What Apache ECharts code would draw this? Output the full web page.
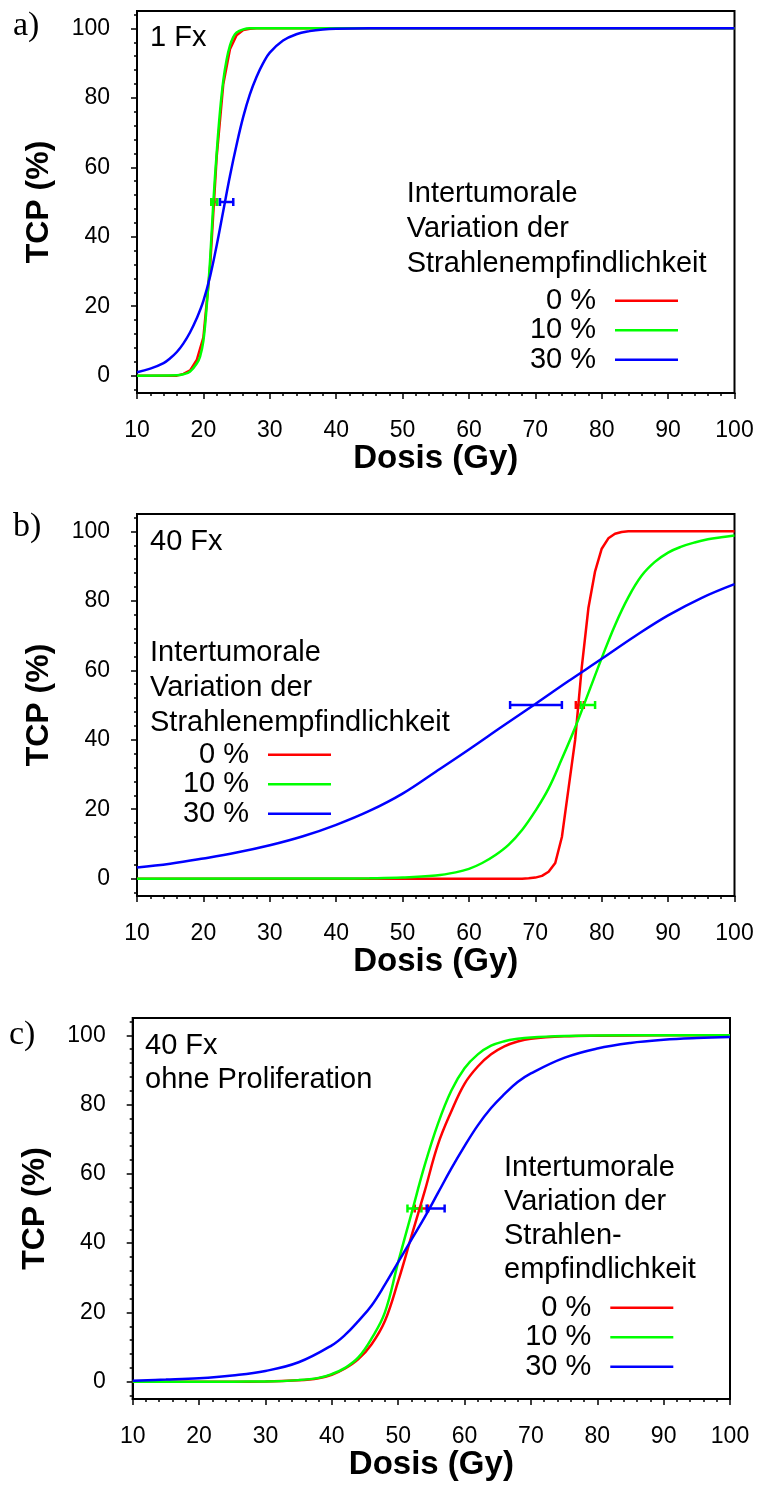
<!DOCTYPE html>
<html>
<head>
<meta charset="utf-8">
<script src="https://cdn.jsdelivr.net/npm/echarts@6/dist/echarts.min.js"></script>
<style>
  html, body { margin: 0; padding: 0; background: #fff; }
  #main { width: 761px; height: 1499px; }
</style>
</head>
<body>
<div id="main"></div>
<script>
// tick labels
var xTicks = [10, 20, 30, 40, 50, 60, 70, 80, 90, 100]
var yTicks = [0, 20, 40, 60, 80, 100]
var yMinorTicks = [-4, 4, 8, 12, 16, 24, 28, 32, 36, 44, 48, 52, 56, 64, 68, 72, 76, 84, 88, 92, 96, 104]
var seriesNames = ['0 %', '10 %', '30 %']

// a) 1 Fx
var aRedDose = [10, 16, 17, 18, 19, 20, 21, 22, 23, 24, 25, 26, 27, 28, 100]
var aRedTcp = [0, 0, 0.5, 1.5, 4.5, 11, 31, 63, 84, 94, 98, 99.5, 99.9, 100, 100]
var aGreenDose = [10, 16, 17, 18, 19, 19.5, 20, 20.5, 21, 21.5, 22, 22.5, 23, 23.5, 24, 24.5, 25, 26, 27, 100]
var aGreenTcp = [0, 0.1, 0.4, 1.2, 3.5, 5.5, 10, 20, 33, 50, 64, 76, 85, 91, 95, 97.5, 98.8, 99.7, 100, 100]
var aBlueDose = [10, 12, 14, 15, 16, 17, 18, 19, 20, 21, 22, 23, 24, 25, 26, 27, 28, 29, 30, 32, 34, 36, 38, 40, 45, 100]
var aBlueTcp = [1.0, 2.0, 3.6, 5.0, 6.8, 9.3, 12.5, 16.5, 21.5, 28.5, 37.5, 47.5, 57.5, 66.5, 74.5, 81, 86, 90, 93, 96.5, 98.3, 99.2, 99.7, 99.9, 100, 100]
var aErrLow = [21.2, 21.2, 22.5]
var aErrHigh = [22.0, 22.1, 24.5]

// b) 40 Fx
var bRedDose = [10, 68, 69, 70, 71, 72, 73, 74, 75, 76, 77, 78, 79, 80, 81, 82, 83, 84, 86, 100]
var bRedTcp = [0, 0, 0.1, 0.3, 0.8, 2, 4.5, 12, 26, 40, 61, 78, 88.5, 95, 98, 99.3, 99.8, 100, 100, 100]
var bGreenDose = [10, 40, 45, 50, 55, 58, 60, 62, 64, 66, 68, 70, 72, 74, 76, 78, 80, 82, 84, 86, 88, 90, 92, 94, 96, 98, 100]
var bGreenTcp = [0, 0.05, 0.1, 0.3, 0.9, 1.8, 2.8, 4.5, 6.8, 9.8, 14, 19.5, 26, 34.5, 43.5, 53.5, 63.5, 73, 81, 87.2, 91.2, 93.9, 95.6, 96.8, 97.7, 98.3, 98.8]
var bBlueDose = [10, 15, 20, 25, 30, 35, 40, 45, 50, 55, 60, 65, 70, 75, 80, 85, 90, 95, 100]
var bBlueTcp = [3.2, 4.3, 5.8, 7.5, 9.6, 12.2, 15.5, 19.5, 24.5, 30.8, 37.2, 43.8, 50.3, 56.9, 63.3, 69.8, 75.8, 80.8, 84.8]
var bErrLow = [76.1, 76.8, 66.2]
var bErrHigh = [77.3, 79.0, 74.0]

// c) 40 Fx ohne Proliferation
var cDose = [10, 25, 30, 35, 38, 40, 42, 44, 46, 48, 50, 52, 54, 56, 58, 60, 62, 64, 66, 68, 70, 75, 80, 90, 100]
var cRedTcp = [0, 0.01, 0.05, 0.4, 1.0, 2.0, 3.8, 6.5, 10.8, 17.5, 29, 42, 55, 68.5, 78, 86, 91, 94.5, 96.8, 98.2, 99, 99.7, 99.9, 100, 100]
var cGreenTcp = [0, 0.01, 0.06, 0.45, 1.1, 2.2, 4.0, 7.0, 12.5, 20, 34.5, 48.5, 62.5, 74.5, 84, 90.5, 94.5, 97, 98.3, 99, 99.4, 99.8, 99.95, 100, 100]
var cBlueDose = [10, 15, 20, 25, 30, 35, 40, 42, 44, 46, 48, 50, 52, 54, 56, 58, 60, 62, 64, 66, 68, 70, 75, 80, 85, 90, 95, 100]
var cBlueTcp = [0.3, 0.6, 1.0, 1.8, 3.1, 5.6, 10.5, 13.5, 17.5, 22, 28, 34.5, 41, 47.5, 54.5, 61.5, 68, 74, 79, 83, 86.5, 89, 93.5, 96.2, 97.8, 98.7, 99.2, 99.5]
var cErrLow = [52.5, 51.4, 54.3]
var cErrHigh = [54.5, 53.5, 57.0]

var colors = ['#ff0000', '#00ff00', '#0000ff']
var font = 'Liberation Sans, Arial, sans-serif'
var serif = 'Liberation Serif, Times New Roman, serif'

function pairs(xs, ys) {
  return xs.map(function(x, i) { return [x, ys[i]] })
}

var panels = [
  { grid: { left: 137, top: 11, width: 597.5, height: 382 },
    curves: [[aRedDose, aRedTcp, false], [aGreenDose, aGreenTcp, 0.4], [aBlueDose, aBlueTcp, 0.4]],
    err: [aErrLow, aErrHigh] },
  { grid: { left: 137, top: 514, width: 597.5, height: 382 },
    curves: [[bRedDose, bRedTcp, false], [bGreenDose, bGreenTcp, 0.4], [bBlueDose, bBlueTcp, 0.4]],
    err: [bErrLow, bErrHigh] },
  { grid: { left: 132.7, top: 1018, width: 597.3, height: 381 },
    curves: [[cDose, cRedTcp, 0.4], [cDose, cGreenTcp, 0.4], [cBlueDose, cBlueTcp, 0.4]],
    err: [cErrLow, cErrHigh] }
]

var grids = [], xAxes = [], yAxes = [], series = []
var axisLineStyle = { color: '#000', width: 2 }

panels.forEach(function(p, k) {
  grids.push(Object.assign({ show: true, borderColor: '#000', borderWidth: 2, backgroundColor: 'transparent' }, p.grid))
  xAxes.push({
    gridIndex: k, type: 'value', min: 10, max: 100, interval: 10,
    axisLine: { show: true, onZero: false, lineStyle: axisLineStyle },
    axisTick: { show: true, length: 6, lineStyle: { color: '#000', width: 1.5 } },
    minorTick: { show: true, splitNumber: 5, length: 3, lineStyle: { color: '#000', width: 1.5 } },
    axisLabel: { fontSize: 23, color: '#000', margin: 26, fontFamily: font },
    splitLine: { show: false },
    name: 'Dosis (Gy)', nameLocation: 'middle', nameGap: 43,
    nameTextStyle: { fontSize: 33, fontWeight: 'bold', color: '#000', fontFamily: font }
  })
  yAxes.push({
    gridIndex: k, type: 'value', min: -5, max: 105,
    axisLine: { show: true, onZero: false, lineStyle: axisLineStyle },
    axisTick: { show: true, length: 6, customValues: yTicks, lineStyle: { color: '#000', width: 1.5 } },
    axisLabel: { customValues: yTicks, fontSize: 23, color: '#000', margin: 27, fontFamily: font },
    splitLine: { show: false },
    name: 'TCP (%)', nameLocation: 'middle', nameGap: 82, nameRotate: 90,
    nameTextStyle: { fontSize: 32, fontWeight: 'bold', color: '#000', fontFamily: font }
  })
  yAxes.push({
    gridIndex: k, type: 'value', min: -5, max: 105, position: 'left',
    axisLine: { show: false },
    axisTick: { show: true, length: 3, customValues: yMinorTicks, lineStyle: { color: '#000', width: 1.5 } },
    axisLabel: { show: false },
    splitLine: { show: false }
  })
  p.curves.forEach(function(c, i) {
    series.push({
      name: seriesNames[i], type: 'line', xAxisIndex: k, yAxisIndex: 2 * k,
      data: pairs(c[0], c[1]), showSymbol: false, smooth: c[2],
      lineStyle: { color: colors[i], width: 2.5 }, itemStyle: { color: colors[i] },
      animation: false
    })
  })
  series.push({
    name: 'err' + k, type: 'custom', xAxisIndex: k, yAxisIndex: 2 * k,
    data: p.err[0].map(function(lo, i) { return [lo, p.err[1][i], 50, i] }),
    encode: { x: [0, 1], y: 2 },
    renderItem: function(params, api) {
      var a = api.coord([api.value(0), api.value(2)])
      var b = api.coord([api.value(1), api.value(2)])
      var h = 4
      var style = { stroke: colors[api.value(3)], lineWidth: 2.5 }
      return {
        type: 'group',
        children: [
          { type: 'line', shape: { x1: a[0], y1: a[1], x2: b[0], y2: b[1] }, style: style },
          { type: 'line', shape: { x1: a[0], y1: a[1] - h, x2: a[0], y2: a[1] + h }, style: style },
          { type: 'line', shape: { x1: b[0], y1: b[1] - h, x2: b[0], y2: b[1] + h }, style: style }
        ]
      }
    },
    animation: false
  })
})

function label(text, left, top, size, lh, family) {
  return {
    text: text, left: left, top: top, padding: 0,
    textStyle: { fontSize: size, lineHeight: lh, fontWeight: 'normal', color: '#000', fontFamily: family || font }
  }
}

var titles = [
  label('a)', 13, 9, 34, 34, serif),
  label('b)', 13, 510, 34, 34, serif),
  label('c)', 9, 1018, 34, 34, serif),
  label('1 Fx', 150, 21, 29, 34),
  label('40 Fx', 150, 525, 29, 34),
  label('40 Fx\nohne Proliferation', 145, 1029, 29, 34),
  label('Intertumorale\nVariation der\nStrahlenempfindlichkeit', 406.7, 176.5, 29, 35),
  label('Intertumorale\nVariation der\nStrahlenempfindlichkeit', 150, 635, 29, 35),
  label('Intertumorale\nVariation der\nStrahlen-\nempfindlichkeit', 504, 1151, 29, 34)
]

function legend(right, top) {
  return {
    right: right, top: top, orient: 'vertical', align: 'right', padding: 0,
    itemWidth: 63, itemHeight: 2.5, icon: 'rect', itemGap: 0, selectedMode: false,
    textStyle: { fontSize: 29, lineHeight: 29.5, color: '#000', fontFamily: font, padding: [0, 14, 0, 0] },
    data: seriesNames
  }
}

var chart = echarts.init(document.getElementById('main'), null, { renderer: 'canvas' })
chart.setOption({
  animation: false,
  backgroundColor: '#fff',
  textStyle: { fontFamily: font },
  title: titles,
  legend: [legend(83, 286), legend(430, 740), legend(87.7, 1293)],
  grid: grids,
  xAxis: xAxes,
  yAxis: yAxes,
  series: series
})
</script>
</body>
</html>
